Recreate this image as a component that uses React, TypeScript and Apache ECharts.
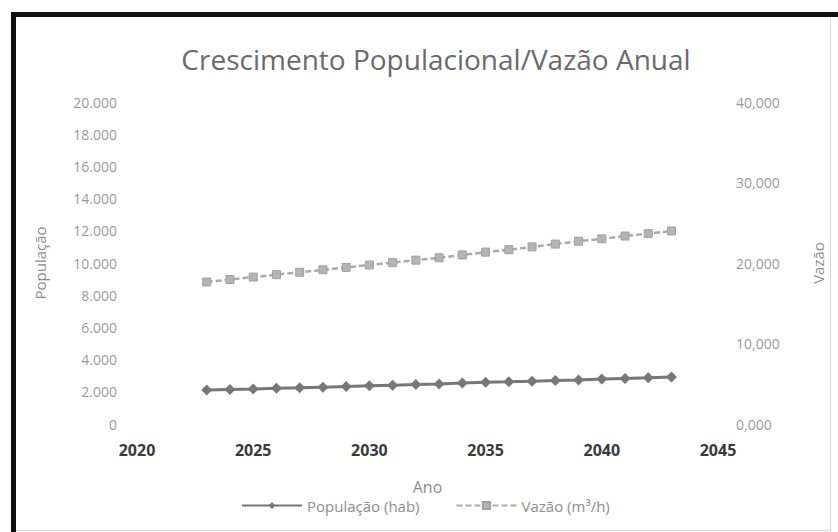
import React, { useEffect, useRef } from "react";
import * as echarts from "echarts";

const years = [2023, 2024, 2025, 2026, 2027, 2028, 2029, 2030, 2031, 2032, 2033, 2034, 2035, 2036, 2037, 2038, 2039, 2040, 2041, 2042, 2043];
const populacao = [2110, 2150, 2180, 2220, 2250, 2290, 2330, 2370, 2410, 2450, 2490, 2540, 2590, 2620, 2660, 2700, 2740, 2790, 2830, 2870, 2920];
const vazao = [17.64, 17.95, 18.25, 18.55, 18.85, 19.15, 19.45, 19.75, 20.05, 20.35, 20.65, 21.0, 21.35, 21.65, 22.0, 22.35, 22.7, 23.0, 23.35, 23.65, 23.98];
const titleText = "Crescimento Populacional/Vazão Anual";
const FONT = "'Open Sans', 'Noto Sans', sans-serif";

function fmtThousands(v: number): string {
  if (v === 0) return "0";
  const s = Math.round(v).toString();
  return s.replace(/\B(?=(\d{3})+(?!\d))/g, ".");
}
function fmtDec(v: number): string {
  return v.toFixed(3).replace(".", ",");
}

export default function App() {
  const ref = useRef<HTMLDivElement>(null);
  useEffect(() => {
    if (!ref.current) return;
    const chart = echarts.init(ref.current, null, { renderer: "svg" });
    chart.setOption({
      animation: false,
      backgroundColor: "#ffffff",
      title: {
        text: titleText,
        left: 431,
        textAlign: "center",
        top: 40,
        textStyle: { fontFamily: FONT, fontSize: 28, fontWeight: "normal", color: "#6a6a6a" },
      },
      graphic: [
        { type: "rect", shape: { x: 11, y: 12, width: 827, height: 5 }, style: { fill: "#111" }, z: 100 },
        { type: "rect", shape: { x: 11, y: 12, width: 5, height: 520 }, style: { fill: "#111" }, z: 100 },
        { type: "rect", shape: { x: 830, y: 17, width: 1, height: 515 }, style: { fill: "#d8d8d8" }, z: 100 },
        { type: "rect", shape: { x: 16, y: 530, width: 814, height: 1 }, style: { fill: "#d8d8d8" }, z: 100 },
      ],
      legend: {
        bottom: 14,
        left: 236,
        itemGap: 36,
        itemWidth: 60,
        itemHeight: 9,
        textStyle: { fontFamily: FONT, fontSize: 15, color: "#8c8c8c" },
        data: ["População (hab)", "Vazão (m³/h)"],
      },
      grid: { left: 137, right: 120, top: 102, bottom: 108 },
      xAxis: {
        type: "value",
        min: 2020,
        max: 2045,
        interval: 5,
        name: "Ano",
        nameLocation: "middle",
        nameGap: 55,
        nameTextStyle: { fontFamily: FONT, fontSize: 16, color: "#8c8c8c" },
        axisLine: { show: false },
        axisTick: { show: false },
        splitLine: { show: false },
        axisLabel: { fontFamily: FONT, fontSize: 16, fontWeight: "bold", color: "#3a3a3a", margin: 18, formatter: (v: number) => String(v) },
      },
      yAxis: [
        {
          type: "value",
          min: 0,
          max: 20000,
          interval: 2000,
          name: "População",
          nameLocation: "middle",
          nameRotate: 90,
          nameGap: 90,
          nameTextStyle: { fontFamily: FONT, fontSize: 15, color: "#8c8c8c" },
          axisLine: { show: false },
          axisTick: { show: false },
          splitLine: { show: false },
          axisLabel: { fontFamily: FONT, fontSize: 14, color: "#9a9a9a", margin: 20, formatter: fmtThousands },
        },
        {
          type: "value",
          min: 0,
          max: 40,
          interval: 10,
          name: "Vazão",
          nameLocation: "middle",
          nameRotate: 90,
          nameGap: 92,
          nameTextStyle: { fontFamily: FONT, fontSize: 15, color: "#8c8c8c" },
          axisLine: { show: false },
          axisTick: { show: false },
          splitLine: { show: false },
          axisLabel: { fontFamily: FONT, fontSize: 14, color: "#9a9a9a", margin: 18, formatter: fmtDec },
        },
      ],
      series: [
        {
          name: "População (hab)",
          type: "line",
          yAxisIndex: 0,
          data: years.map((y, i) => [y, populacao[i]]),
          symbol: "diamond",
          symbolSize: 11,
          lineStyle: { color: "#777777", width: 3 },
          itemStyle: { color: "#777777" },
        },
        {
          name: "Vazão (m³/h)",
          type: "line",
          yAxisIndex: 1,
          data: years.map((y, i) => [y, vazao[i]]),
          symbol: "rect",
          symbolSize: 8,
          lineStyle: { color: "#aaaaaa", width: 2.5, type: [6, 3] },
          itemStyle: { color: "#b4b4b4", borderColor: "#a0a0a0", borderWidth: 1 },
        },
      ],
    });
    return () => chart.dispose();
  }, []);
  return <div ref={ref} style={{ position: "fixed", left: 0, top: 0, width: 838, height: 532 }} />;
}
